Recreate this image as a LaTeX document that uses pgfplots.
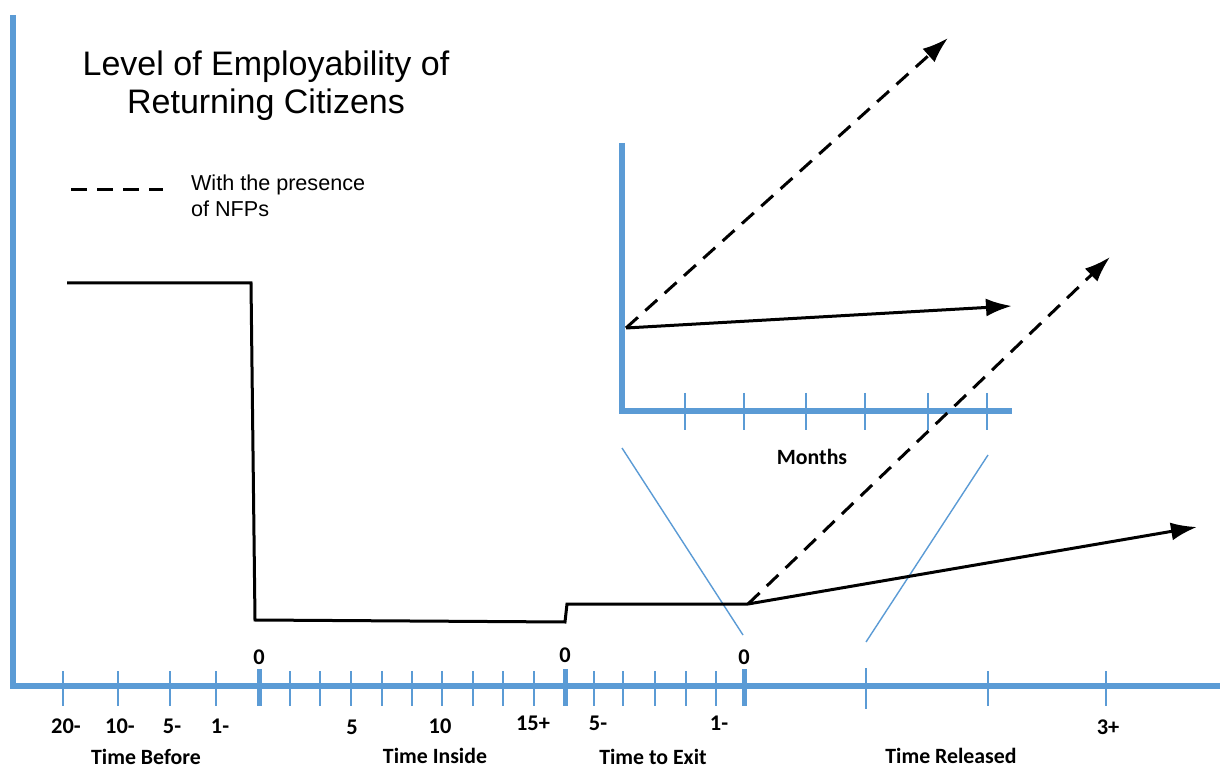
\documentclass[border=0pt]{standalone}
\usepackage{pgfplots}
\pgfplotsset{compat=1.18}
\usepackage{fontspec}
\setmainfont{Liberation Sans}
\newfontfamily\calfont{Carlito}
\usetikzlibrary{arrows.meta}
\definecolor{axblue}{RGB}{91,155,213}
\begin{document}
\begin{tikzpicture}
\begin{axis}[
  scale only axis, width=610pt, height=384.5pt,
  xmin=0, xmax=1220, ymin=0, ymax=769, y dir=reverse,
  hide axis, clip=false,
  unbounded coords=jump,
]
% main axes
\addplot[axblue, line width=3pt, line cap=rect] coordinates {(13,18) (13,686) (1220,686)};
% minor ticks
\addplot[axblue, line width=0.8pt] coordinates {
(63,671) (63,706) (nan,nan)
(118,671) (118,706) (nan,nan)
(170,671) (170,706) (nan,nan)
(216,671) (216,706) (nan,nan)
(290,671) (290,706) (nan,nan)
(320,671) (320,706) (nan,nan)
(351,671) (351,706) (nan,nan)
(382,671) (382,706) (nan,nan)
(412,671) (412,706) (nan,nan)
(442,671) (442,706) (nan,nan)
(473,671) (473,706) (nan,nan)
(503,671) (503,706) (nan,nan)
(534,671) (534,706) (nan,nan)
(594,671) (594,706) (nan,nan)
(623,671) (623,706) (nan,nan)
(655,671) (655,706) (nan,nan)
(686,671) (686,706) (nan,nan)
(716,671) (716,706) (nan,nan)
(866,668) (866,709) (nan,nan)
(988,671) (988,706) (nan,nan)
(1106,671) (1106,706)
};
% thick ticks
\addplot[axblue, line width=2.5pt] coordinates {
(259,669) (259,706) (nan,nan)
(565,669) (565,706) (nan,nan)
(744,669) (744,706)
};
% inset axes
\addplot[axblue, line width=3pt] coordinates {(622,143) (622,411) (1012,411)};
\addplot[axblue, line width=0.8pt] coordinates {
(685,393) (685,430) (nan,nan)
(744,393) (744,430) (nan,nan)
(806,393) (806,430) (nan,nan)
(865,393) (865,430) (nan,nan)
(928,393) (928,430) (nan,nan)
(987,393) (987,430)
};
% zoom guide lines
\addplot[axblue, line width=0.7pt] coordinates {(622,448) (743,635) (nan,nan) (988,455) (866,642)};
% main solid path
\addplot[black, line width=1.5pt] coordinates {
(67,283) (251,283) (255,620) (565,622) (567,604) (748,604)};
\addplot[black, line width=1.5pt, -{Latex[length=13pt,width=9pt]}] coordinates {(748,604) (1197,527)};
% main dashed
\addplot[black, line width=1.5pt, dash pattern=on 8pt off 5pt, -{Latex[length=13pt,width=9pt]}] coordinates {(748,604) (1110,257)};
% inset solid
\addplot[black, line width=1.5pt, -{Latex[length=13pt,width=9pt]}] coordinates {(626,328) (1012,306)};
% inset dashed
\addplot[black, line width=1.5pt, dash pattern=on 8pt off 5pt, -{Latex[length=13pt,width=9pt]}] coordinates {(626,328) (948,38)};
% legend dash
\addplot[black, line width=1.5pt, dash pattern=on 8pt off 5pt] coordinates {(71,190) (163,190)};

% texts
\node[align=center, font=\fontsize{17}{19}\selectfont] at (axis cs:266,86) {Level of Employability of\\Returning Citizens};
\node[anchor=west, align=left, font=\fontsize{10.8}{13}\selectfont] at (axis cs:184,196) {With the presence\\of NFPs};
\node[font=\calfont\bfseries\fontsize{10.9}{12}\selectfont] at (axis cs:812,457) {Months};
\begin{scope}[every node/.style={font=\calfont\bfseries\fontsize{11.2}{12}\selectfont}]
\node at (axis cs:259,657) {0};
\node at (axis cs:565,655) {0};
\node at (axis cs:744,657) {0};
\node at (axis cs:66,726) {20-};
\node at (axis cs:120,726) {10-};
\node at (axis cs:172,726) {5-};
\node at (axis cs:220,726) {1-};
\node at (axis cs:352,727) {5};
\node at (axis cs:440,726) {10};
\node at (axis cs:533,723) {15+};
\node at (axis cs:598,723) {5-};
\node at (axis cs:719,723) {1-};
\node at (axis cs:1108,727) {3+};
\end{scope}
\begin{scope}[every node/.style={font=\calfont\bfseries\fontsize{10.9}{12}\selectfont, inner sep=1pt}]
\node at (axis cs:146,757) {Time Before};
\node at (axis cs:435,756) {Time Inside};
\node at (axis cs:653,757) {Time to Exit};
\node at (axis cs:951,756) {Time Released};
\end{scope}
\end{axis}
\pgfresetboundingbox
\path (current axis.south west) rectangle (current axis.north east);
\end{tikzpicture}
\end{document}
